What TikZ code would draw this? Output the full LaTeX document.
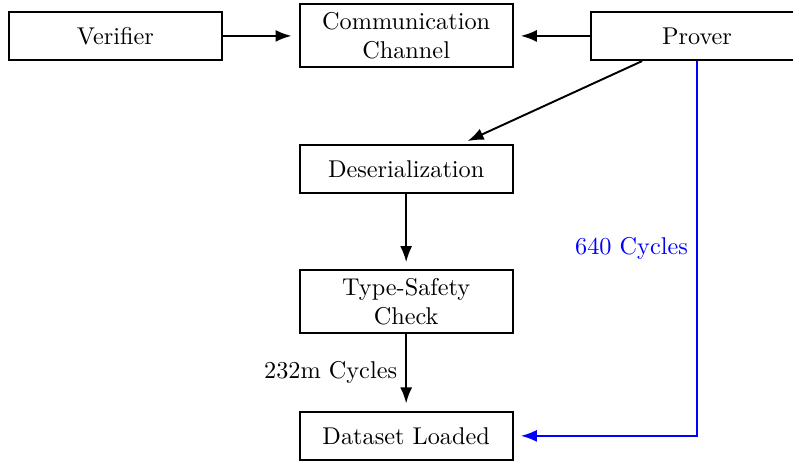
\documentclass[tikz,border=0pt]{standalone}
\usepackage{tikz}
\usetikzlibrary{arrows.meta}
\tikzset{
		>=Latex,
		box/.style={draw,rectangle,align=center,minimum width=3.08cm,minimum height=0.7cm}
	}

\begin{document}
\begin{tikzpicture}[thick]
          \useasboundingbox (0,0) rectangle (11.48,-6.67);

          \node[box] (verifier) at (1.67,-0.52) {Verifier};
          \node[box] (comm) at (5.88,-0.52) {Communication\\Channel};
          \node[box] (prover) at (10.09,-0.52) {Prover};
          \node[box] (deser) at (5.88,-2.45) {Deserialization};
          \node[box] (typesafety) at (5.88,-4.37) {Type-Safety\\Check};
          \node[box] (dataset) at (5.88,-6.31) {Dataset Loaded};

          \draw[->,shorten >=3pt] (verifier) -- (comm);
          \draw[->,shorten >=3pt] (prover) -- (comm);
          \draw[->,shorten >=3pt] (prover) -- (deser);
          \draw[->,shorten >=3pt] (deser) -- (typesafety);
          \draw[->,shorten >=3pt] (typesafety) -- (dataset) node[midway,left]{232m Cycles};

          \draw[->,blue,shorten >=3pt] (prover) |- (dataset) node[pos=0.25,left]{640 Cycles};% blue timing path
\end{tikzpicture}
\end{document}
